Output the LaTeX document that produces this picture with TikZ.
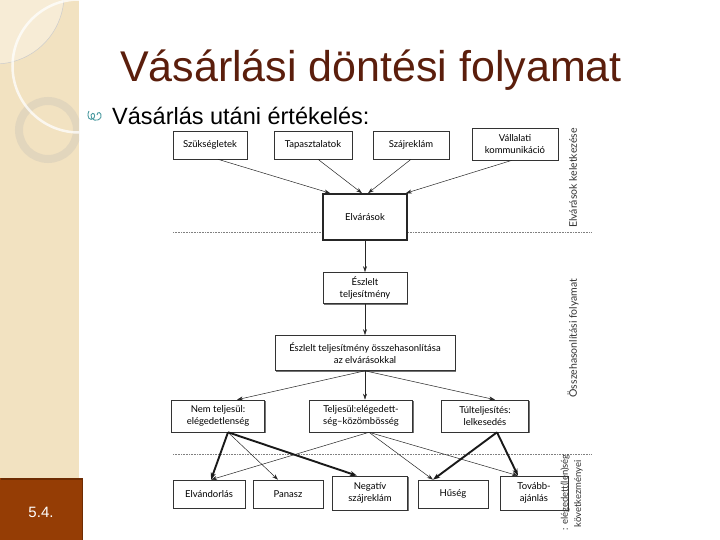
\documentclass[tikz,border=0pt]{standalone}
\usepackage{fontspec}
\setmainfont{Liberation Sans}
\newfontfamily\diagfont{Lato}
\usetikzlibrary{arrows.meta,calc,shadows}
\definecolor{titlebrown}{HTML}{5B1E0C}
\definecolor{panelbeige}{HTML}{F2E2C1}
\definecolor{panellight}{HTML}{F7ECD6}
\definecolor{ringcol}{HTML}{E1D5BD}
\definecolor{boxbrown}{HTML}{953D05}
\definecolor{boxbrowndark}{HTML}{6E2C03}
\definecolor{bulletteal}{HTML}{4A9AA0}
\tikzset{
  dbox/.style={draw=black!80, line width=0.6pt, fill=white, align=center,
    font=\diagfont\fontsize{9.5}{11.5}\selectfont, inner sep=2pt,
    drop shadow={shadow xshift=1.2pt, shadow yshift=-1.2pt, fill=black!55, opacity=1}},
  hbox/.style={dbox, line width=1.6pt, draw=black!85},
  thinarr/.style={draw=black!85, line width=0.5pt, -{Stealth[length=6pt,width=4pt]}},
  thickarr/.style={draw=black!90, line width=1.9pt, -{Stealth[length=7pt,width=5pt]}},
  sepline/.style={draw=black!50, line width=0.6pt, densely dotted},
  sidelabel/.style={rotate=90, font=\diagfont\fontsize{10.5}{12}\selectfont, text=black!80, inner sep=0pt},
  smalllabel/.style={sidelabel, font=\diagfont\fontsize{9.5}{11}\selectfont}
}
\begin{document}
\begin{tikzpicture}[x=1pt,y=-1pt]
\useasboundingbox (0,0) rectangle (720,540);
\clip (0,0) rectangle (720,540);
\fill[white] (0,0) rectangle (720,540);
% left decorative panel
\fill[panelbeige] (0,0) rectangle (79,540);
\begin{scope}
\clip (0,0) rectangle (79,540);
\begin{scope}
\clip (-5,-5) circle (69);
\fill[panellight] (0,0) rectangle (65,64);
\end{scope}
\begin{scope}
\clip (0,0) rectangle (65,64);
\draw[black!20, line width=0.5pt] (-5,-5) circle (69);
\end{scope}
\draw[ringcol, line width=8pt, opacity=0.9] (48,130) circle (29);
\draw[white, line width=2.5pt, opacity=0.75] (79,66) circle (66.5);
\end{scope}
% slide number box
\fill[boxbrown] (0,478) rectangle (83,540);
\draw[boxbrowndark, line width=1.5pt] (0.75,478.75) -- (82.25,478.75) -- (82.25,540);
\node[text=white, font=\fontsize{15}{18}\selectfont] (num) at (41,512) {5.4.};
% title
\node[text=titlebrown, font=\fontsize{43}{50}\selectfont, anchor=base] (title) at (371,82) {Vásárlási döntési folyamat};
% bullet
\draw[bulletteal, line width=0.9pt] (89,111) .. controls (86,117) and (90,122) .. (94,118)
  .. controls (96,115) and (93,111) .. (91,115) .. controls (90,120) and (98,123) .. (101,117)
  .. controls (102,112) and (97,111) .. (97,115);
\node[anchor=base west, font=\fontsize{23.5}{28}\selectfont, inner sep=0pt] (bullet) at (112,125) {Vásárlás utáni értékelés:};
% separator lines
\draw[sepline] (173,232) -- (592,232);
\draw[sepline] (173,454) -- (592,454);
% boxes
\node[dbox, minimum width=74pt, minimum height=28pt] (szuk) at (210,145) {Szükségletek};
\node[dbox, minimum width=78pt, minimum height=28pt] (tap) at (313,145) {Tapasztalatok};
\node[dbox, minimum width=76pt, minimum height=28pt] (szaj) at (411,145) {Szájreklám};
\node[dbox, minimum width=86pt, minimum height=32pt] (vall) at (515,144) {Vállalati\\kommunikáció};
\node[hbox, minimum width=84pt, minimum height=46pt] (elv) at (365,217) {Elvárások};
\node[dbox, minimum width=84pt, minimum height=31pt] (esz) at (365,288) {Észlelt\\teljesítmény};
\node[dbox, minimum width=180pt, minimum height=35pt] (ossz) at (365,353) {Észlelt teljesítmény összehasonlítása\\az elvárásokkal};
\node[dbox, minimum width=93pt, minimum height=32pt] (nem) at (218,416) {Nem teljesül:\\elégedetlenség};
\node[dbox, minimum width=103pt, minimum height=32pt] (telj) at (361,416) {Teljesül:elégedett-\\ség–közömbösség};
\node[dbox, minimum width=87pt, minimum height=32pt] (tul) at (485,416) {Túlteljesítés:\\lelkesedés};
\node[dbox, minimum width=72pt, minimum height=28pt] (elvand) at (209,494) {Elvándorlás};
\node[dbox, minimum width=70pt, minimum height=28pt] (panasz) at (288,494) {Panasz};
\node[dbox, minimum width=75pt, minimum height=34pt] (negativ) at (370,493) {Negatív\\szájreklám};
\node[dbox, minimum width=70pt, minimum height=28pt] (huseg) at (453,494) {Hűség};
\node[dbox, minimum width=68pt, minimum height=34pt] (tovabb) at (534,493) {Tovább-\\ajánlás};
% side labels
\node[sidelabel] (lab1) at (573,178) {Elvárások keletkezése};
\node[sidelabel] (lab2) at (573,338) {Összehasonlítási folyamat};
\node[smalllabel, anchor=east] (lab3) at (565,454) {: elégedett(len)ség};
\node[smalllabel] (lab4) at (578.5,494) {következményei};
% connectors: expectations
\coordinate (e1) at ($(elv.north west)+(8,0)$);
\coordinate (e2) at ($(elv.north)+(-3,0)$);
\coordinate (e3) at ($(elv.north)+(3,0)$);
\coordinate (e4) at ($(elv.north east)+(-2,0)$);
\draw[thinarr] ($(szuk.south)+(8,0)$) -- (e1);
\draw[thinarr] ($(tap.south)+(5,0)$) -- (e2);
\draw[thinarr] (szaj.south) -- (e3);
\draw[thinarr] ($(vall.south)+(-3,0)$) -- (e4);
\draw[thinarr] (elv.south) -- (esz.north);
\draw[thinarr] (esz.south) -- (ossz.north);
% comparison outcomes
\draw[thinarr] (ossz.south) -- ($(nem.north)+(19,0)$);
\draw[thinarr] (ossz.south) -- (ossz.south |- telj.north);
\draw[thinarr] (ossz.south) -- ($(tul.north)+(10,0)$);
% consequences
\coordinate (nb) at ($(nem.south)+(10,0)$);
\coordinate (tb) at ($(telj.south)+(8,0)$);
\coordinate (ub) at ($(tul.south)+(12,0)$);
\coordinate (ea) at ($(elvand.north)+(2,0)$);
\coordinate (ha) at ($(huseg.north)+(-20,0)$);
\coordinate (ta) at ($(tovabb.north)+(-16,0)$);
\draw[thinarr] (tb) -- (ea);
\draw[thinarr] (tb) -- (ha);
\draw[thinarr] (tb) -- (ta);
\draw[thinarr] (nb) -- ($(panasz.north)+(-10,0)$);
\draw[thickarr] (nb) -- (ea);
\draw[thickarr] (nb) -- ($(negativ.north)+(-13,0)$);
\draw[thickarr] (ub) -- (ha);
\draw[thickarr] (ub) -- (ta);
\end{tikzpicture}
\end{document}
